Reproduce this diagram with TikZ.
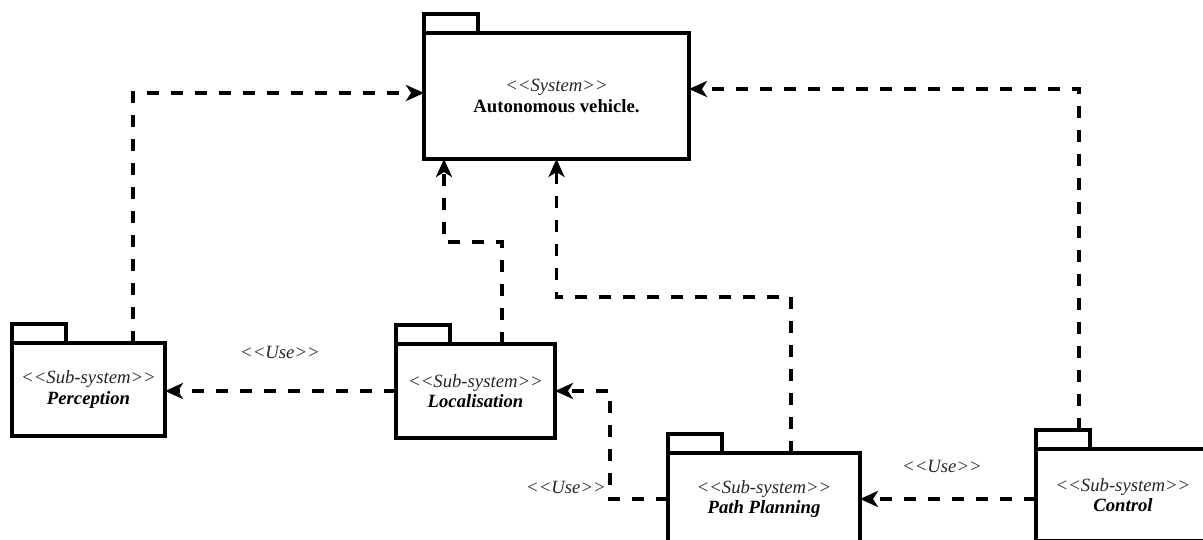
\documentclass[tikz,border=0pt]{standalone}
\usepackage{fontspec}
\setmainfont{Liberation Serif}[Ligatures=TeXOff]
\usetikzlibrary{arrows.meta}

\newcommand{\stereo}[1]{{\color{black!85}\textit{<<#1>>}}}

\begin{document}
\begin{tikzpicture}[x=1pt,y=-1pt,
  pkg/.style={draw,line width=3.5pt,inner sep=0pt,outer sep=0pt,
    align=center,font=\fontsize{18.7}{20.5}\selectfont},
  pkgtab/.style={draw,line width=3.5pt},
  dep/.style={line width=3.5pt,dash pattern=on 12pt off 12pt,
    -{Stealth[length=18pt,width=16pt,inset=5pt]}},
  lbl/.style={inner sep=0pt,text=black!85,
    font=\fontsize{18.7}{20.5}\selectfont\itshape}]

\clip (0,0) rectangle (1203,539);

% package bodies
\node[pkg,minimum width=265pt,minimum height=126pt] (sys) at (556.5,96)
  {\stereo{System}\\\textbf{Autonomous vehicle.}};
\node[pkg,minimum width=153pt,minimum height=93pt] (perc) at (88.5,389.5)
  {\stereo{Sub-system}\\\textbf{\textit{Perception}}};
\node[pkg,minimum width=159pt,minimum height=94pt] (loc) at (475.5,391)
  {\stereo{Sub-system}\\\textbf{\textit{Localisation}}};
\node[pkg,minimum width=192pt,minimum height=92pt] (pp) at (764,499)
  {\stereo{Sub-system}\\\textbf{\textit{Path Planning}}};
\node[pkg,minimum width=174pt,minimum height=92pt] (ctrl) at (1123,495)
  {\stereo{Sub-system}\\\textbf{\textit{Control}}};

% package tabs
\foreach \p in {sys,perc,loc,pp,ctrl}
  \draw[pkgtab] (\p.north west) rectangle ++(54,-19);

% dependencies on the system
\draw[dep] ([xshift=44.5pt]perc.north) |- ([yshift=3pt]sys.west);
\draw[dep] ([xshift=26.5pt]loc.north) -- ++(0,-102)
  -| ([xshift=-112.5pt]sys.south);
\draw[dep] ([xshift=27pt]pp.north) -- ++(0,-156) -| (sys.south);
\draw[dep] ([xshift=-44pt,yshift=19pt]ctrl.north) |- ([yshift=7pt]sys.east);

% use relations between sub-systems
\draw[dep] (loc.west) -- (loc.west -| perc.east);
\draw[dep] (pp.west) -- ++(-58,0) |- (loc.east);
\draw[dep] (ctrl.west |- pp.east) -- (pp.east);

\node[lbl] (use1) at (280,352) {<<Use>>};
\node[lbl] (use2) at (566,487) {<<Use>>};
\node[lbl] (use3) at (942,466) {<<Use>>};
\end{tikzpicture}
\end{document}
